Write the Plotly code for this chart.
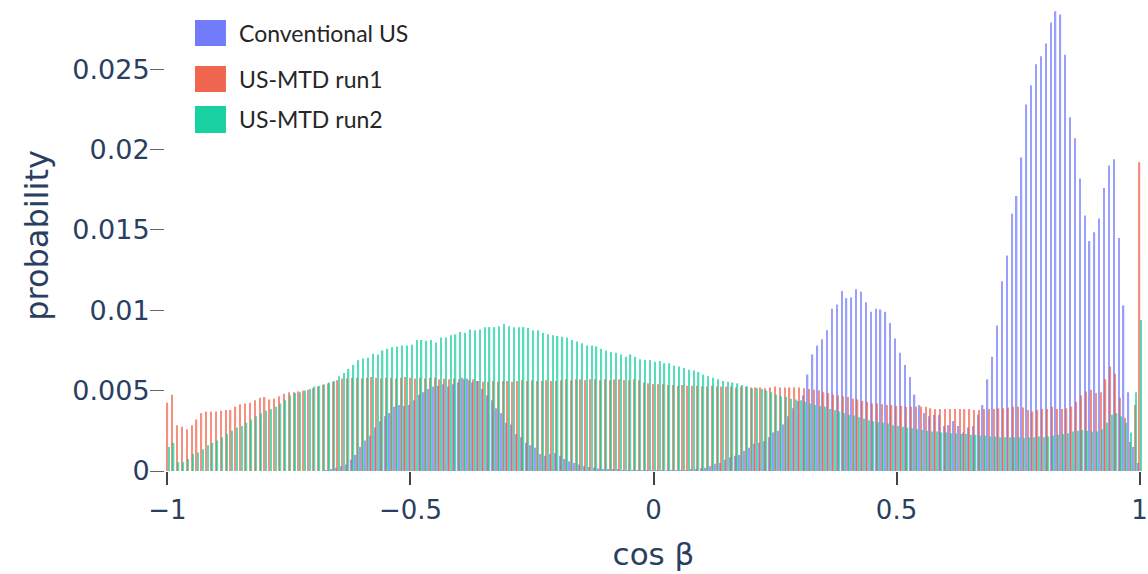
import numpy as np
import plotly.graph_objects as go

# Histogram bin centres of cos(beta): -1.00, -0.99, ..., 1.00
bin_centers = np.round(np.arange(-100, 101) / 100, 2)

series_names = ["Conventional US", "US-MTD run1", "US-MTD run2"]
series_colors = ["#636EFA", "#EF553B", "#00CC96"]

# Probability per bin
conventional_us = [
    0, 0, 0, 0, 0, 0, 0, 0, 0, 0,
    0, 0, 0, 0, 0, 0, 0, 0, 0, 0,
    0, 0, 0, 0, 0, 0, 0, 0, 0, 0,
    0, 0, 0, 0.00005, 0.0001, 0.0002, 0.0003, 0.0004, 0.0007, 0.001,
    0.0015, 0.0019, 0.0022, 0.0027, 0.0031, 0.0034, 0.0036, 0.004, 0.0041, 0.00405,
    0.0041, 0.0044, 0.00475, 0.0049, 0.0051, 0.00525, 0.0053, 0.0054, 0.00525, 0.0054,
    0.0055, 0.0058, 0.00575, 0.0055, 0.0056, 0.0051, 0.0047, 0.0044, 0.0039, 0.0036,
    0.003, 0.0029, 0.0023, 0.0021, 0.00175, 0.0016, 0.00145, 0.00105, 0.00095, 0.00105,
    0.0011, 0.00095, 0.00075, 0.0006, 0.0005, 0.0004, 0.0003, 0.00025, 0.0002, 0.00015,
    0.00012, 0.0001, 0.00008, 0.00007, 0.00006, 0.00005, 0.00004, 0.00003, 0.00003, 0.00002,
    0.00002, 0.00002, 0.00002, 0.00002, 0.00003, 0.00003, 0.00004, 0.00005, 0.00007, 0.0001,
    0.00017, 0.0002, 0.0003, 0.00045, 0.0005, 0.0007, 0.00085, 0.00095, 0.001, 0.00125,
    0.00145, 0.0017, 0.00175, 0.00185, 0.0021, 0.0024, 0.0025, 0.0029, 0.0034, 0.0039,
    0.00435, 0.0047, 0.006, 0.00725, 0.0078, 0.0082, 0.00875, 0.0101, 0.01035, 0.0112,
    0.01075, 0.0108, 0.0113, 0.01115, 0.0105, 0.0099, 0.0101, 0.01005, 0.0099, 0.0092,
    0.00825, 0.00735, 0.0066, 0.00585, 0.00475, 0.0041, 0.0036, 0.0034, 0.0035, 0.0035,
    0.0028, 0.00285, 0.0031, 0.0028, 0.0024, 0.0027, 0.0028, 0.0035, 0.0041, 0.0057,
    0.0071, 0.00905, 0.0118, 0.0134, 0.016, 0.0171, 0.0195, 0.0228, 0.024, 0.0253,
    0.0258, 0.0266, 0.0279, 0.0286, 0.0284, 0.0259, 0.022, 0.0207, 0.0182, 0.0159,
    0.0143, 0.01485, 0.0157, 0.0176, 0.019, 0.0194, 0.0145, 0.0103, 0.0049, 0.0015,
    0.0005,
]

us_mtd_run1 = [
    0.00425, 0.00475, 0.00285, 0.00275, 0.0026, 0.00285, 0.0032, 0.0036, 0.0037, 0.0037,
    0.0037, 0.00375, 0.0038, 0.0038, 0.004, 0.00415, 0.0042, 0.00425, 0.0044, 0.00455,
    0.0046, 0.00445, 0.0045, 0.00465, 0.0048, 0.0049, 0.0049, 0.00495, 0.005, 0.00505,
    0.00515, 0.00525, 0.00535, 0.00545, 0.00555, 0.00565, 0.00575, 0.00575, 0.0058, 0.0058,
    0.00575, 0.0058, 0.00585, 0.0058, 0.00575, 0.0058, 0.0058, 0.00575, 0.0058, 0.00585,
    0.0058, 0.00575, 0.0058, 0.00575, 0.0058, 0.0058, 0.0057, 0.00575, 0.0057, 0.00575,
    0.0057, 0.0057, 0.00565, 0.0057, 0.0056, 0.00555, 0.00555, 0.0056, 0.00555, 0.0056,
    0.0056, 0.00555, 0.0056, 0.00565, 0.0056, 0.00565, 0.0056, 0.0056, 0.00565, 0.0056,
    0.0056, 0.00565, 0.0057, 0.00565, 0.0057, 0.0057, 0.00565, 0.0057, 0.0057, 0.00565,
    0.0057, 0.00565, 0.0057, 0.0057, 0.00565, 0.00565, 0.0057, 0.00565, 0.0055, 0.00545,
    0.0054, 0.0054, 0.0054, 0.00535, 0.00535, 0.0053, 0.00535, 0.0053, 0.0053, 0.0053,
    0.00525, 0.00525, 0.0053, 0.00525, 0.00525, 0.00525, 0.00525, 0.0052, 0.00525, 0.00525,
    0.0052, 0.0052, 0.0052, 0.00515, 0.0052, 0.00525, 0.0052, 0.0052, 0.0052, 0.0052,
    0.0052, 0.00515, 0.0051, 0.00505, 0.005, 0.0049, 0.00485, 0.00475, 0.0047, 0.00465,
    0.0046, 0.0045, 0.00445, 0.00435, 0.0043, 0.0042, 0.0042, 0.00415, 0.0041, 0.0041,
    0.00405, 0.00405, 0.004, 0.004, 0.004, 0.004, 0.004, 0.0039, 0.00385, 0.00385,
    0.00385, 0.00385, 0.00385, 0.00385, 0.00385, 0.00385, 0.0038, 0.0038, 0.00385, 0.00385,
    0.00385, 0.0039, 0.0039, 0.00395, 0.004, 0.004, 0.00395, 0.0038, 0.0037, 0.0038,
    0.00385, 0.00385, 0.004, 0.00385, 0.00385, 0.0039, 0.004, 0.0043, 0.0047, 0.00495,
    0.00505, 0.00485, 0.0049, 0.0057, 0.0065, 0.00605, 0.00455, 0.0033, 0.0018, 0.0041,
    0.0192,
]

us_mtd_run2 = [
    0.0015, 0.00175, 0.00055, 0.00055, 0.00075, 0.00105, 0.00115, 0.00135, 0.0016, 0.00175,
    0.0019, 0.0021, 0.0023, 0.0025, 0.0027, 0.0028, 0.003, 0.0032, 0.0034, 0.0036,
    0.00375, 0.00385, 0.004, 0.0042, 0.0044, 0.0047, 0.00485, 0.0049, 0.005, 0.0051,
    0.00525, 0.0053, 0.0054, 0.0055, 0.0056, 0.0059, 0.0061, 0.00635, 0.0066, 0.0069,
    0.007, 0.00705, 0.0073, 0.00725, 0.0075, 0.0076, 0.0077, 0.00775, 0.0078, 0.0078,
    0.00785, 0.00815, 0.00815, 0.0081, 0.00815, 0.008, 0.0083, 0.0083, 0.00845, 0.0085,
    0.00865, 0.0086, 0.0088, 0.00875, 0.0088, 0.00895, 0.00895, 0.00895, 0.009, 0.00915,
    0.009, 0.00895, 0.00895, 0.00895, 0.0089, 0.00875, 0.00875, 0.0086, 0.0085, 0.00845,
    0.0084, 0.00835, 0.0083, 0.00815, 0.00805, 0.00795, 0.0078, 0.0078, 0.00775, 0.0076,
    0.0075, 0.0074, 0.00735, 0.00725, 0.0071, 0.00725, 0.0071, 0.00695, 0.0069, 0.0069,
    0.0068, 0.00685, 0.0067, 0.0067, 0.00655, 0.0065, 0.0064, 0.0063, 0.00625, 0.00615,
    0.006, 0.0059, 0.0058, 0.0057, 0.0056, 0.00555, 0.0055, 0.00545, 0.00535, 0.00525,
    0.00515, 0.00515, 0.0051, 0.005, 0.0049, 0.00475, 0.00465, 0.0046, 0.0045, 0.00445,
    0.0044, 0.0043, 0.0042, 0.0041, 0.00405, 0.004, 0.00385, 0.0038, 0.0037, 0.0036,
    0.0035, 0.00345, 0.00335, 0.00325, 0.00315, 0.0031, 0.00305, 0.003, 0.00295, 0.00285,
    0.0028, 0.00275, 0.0027, 0.00265, 0.0026, 0.00255, 0.0025, 0.00245, 0.00245, 0.0024,
    0.0024, 0.00235, 0.00235, 0.0023, 0.0023, 0.00225, 0.00225, 0.0022, 0.0022, 0.00215,
    0.00215, 0.0021, 0.0021, 0.0021, 0.0021, 0.0021, 0.00205, 0.0021, 0.0021, 0.00215,
    0.0021, 0.00215, 0.0022, 0.00225, 0.0023, 0.00235, 0.00245, 0.0025, 0.00255, 0.0025,
    0.00245, 0.00245, 0.0026, 0.003, 0.0035, 0.0036, 0.0034, 0.003, 0.0024, 0.0049,
    0.0094,
]

y_tick_values = [0, 0.005, 0.01, 0.015, 0.02, 0.025]
x_tick_values = [-1, -0.5, 0, 0.5, 1]

TEXT = "#2a3f5f"

fig = go.Figure()
for name, color, values in zip(series_names, series_colors,
                               [conventional_us, us_mtd_run1, us_mtd_run2]):
    fig.add_trace(go.Bar(x=bin_centers, y=values, name=name,
                         marker=dict(color=color, line=dict(width=0)),
                         opacity=0.65, showlegend=False))

fig.update_layout(
    width=1148, height=574,
    margin=dict(l=165, r=6, t=0, b=103),
    barmode="group", bargap=0.15,
    plot_bgcolor="white", paper_bgcolor="white",
    font=dict(family="DejaVu Sans", color=TEXT),
)
fig.update_xaxes(
    range=[-1.005, 1.005], tickvals=x_tick_values,
    ticks="outside", ticklen=13, tickwidth=1.5, tickcolor="#444",
    ticklabelstandoff=3,
    showgrid=False, zeroline=False, showline=False,
    tickfont=dict(size=26, color=TEXT),
    title=dict(text="cos β", font=dict(size=31, color=TEXT), standoff=19),
)
fig.update_yaxes(
    range=[0, 0.0293], tickvals=y_tick_values,
    ticks="outside", ticklen=14, tickwidth=1, tickcolor="#666",
    ticklabelstandoff=-5,
    showgrid=False, zeroline=False, showline=False,
    tickfont=dict(size=27, color=TEXT),
    title=dict(text="probability", font=dict(size=32, color=TEXT), standoff=14),
)

# Legend drawn as coloured squares with text labels in the upper-left corner
legend_rows = [(0.9023, 0.9575, 0.930), (0.8047, 0.8599, 0.8323), (0.7176, 0.7749, 0.7463)]
for name, color, (y0, y1, yc) in zip(series_names, series_colors, legend_rows):
    fig.add_shape(type="rect", xref="paper", yref="paper",
                  x0=0.0307, x1=0.0624, y0=y0, y1=y1,
                  fillcolor=color, opacity=0.9, line=dict(width=0))
    fig.add_annotation(xref="paper", yref="paper", x=0.0737, y=yc,
                       xanchor="left", yanchor="middle", showarrow=False,
                       text=name, font=dict(family="Lato", size=23, color="#262626"))

fig.write_html("out.html")
